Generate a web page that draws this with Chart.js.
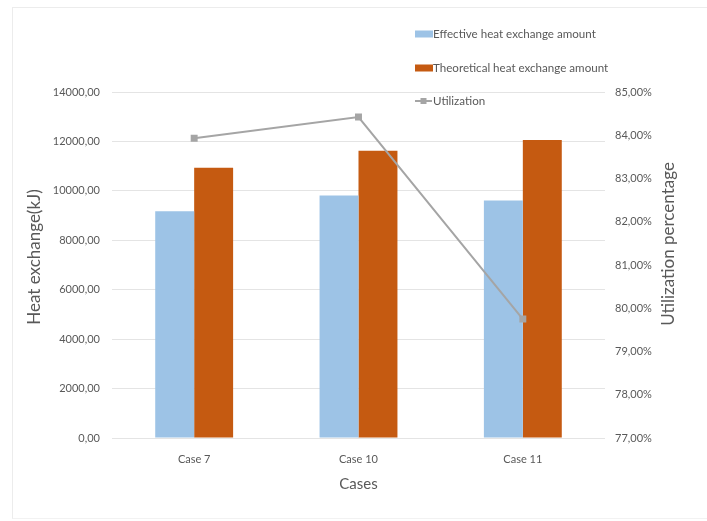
<!DOCTYPE html>
<html>
<head>
<meta charset="utf-8">
<script src="https://cdn.jsdelivr.net/npm/chart.js@4"></script>
<style>
  html, body { margin: 0; padding: 0; background: #fff; }
  #wrap { position: relative; width: 707px; height: 521px; }
  #frame { position: absolute; left: 12px; top: 7px; width: 700px; height: 512px;
           border-left: 1px solid #ececec; border-top: 1px solid #ececec; border-bottom: 1px solid #f2f2f2; box-sizing: border-box; }
  canvas { position: absolute; left: 0; top: 0; }
</style>
</head>
<body>
<div id="wrap">
  <div id="frame"></div>
  <canvas id="c" width="707" height="521"></canvas>
</div>
<script>
// Categories and series
const cases = ['Case 7', 'Case 10', 'Case 11'];
const effectiveHeat = [9170, 9810, 9610];
const theoreticalHeat = [10930, 11620, 12060];
const utilization = [83.93, 84.42, 79.75];

// Axis titles
const leftTitle = 'Heat exchange(kJ)';
const rightTitle = 'Utilization percentage';
const xTitle = 'Cases';

const FONT = 'Lato, "Liberation Sans", sans-serif';
const TEXT = '#595959';

const fmt = (v, d) => v.toFixed(d).replace('.', ',');

// Legend drawn as a vertical list at the top right
const sideLegend = {
  id: 'sideLegend',
  afterDraw(chart) {
    const ctx = chart.ctx;
    const x0 = 415, ys = [34, 68, 101];
    ctx.save();
    ctx.font = '11.6px ' + FONT;
    ctx.textBaseline = 'middle';
    chart.data.datasets.forEach((ds, i) => {
      const y = ys[i];
      if (ds.type === 'line') {
        ctx.strokeStyle = ds.borderColor;
        ctx.lineWidth = 2;
        ctx.beginPath(); ctx.moveTo(x0, y); ctx.lineTo(x0 + 17, y); ctx.stroke();
        ctx.fillStyle = ds.pointBackgroundColor;
        ctx.fillRect(x0 + 5.5, y - 3, 6, 6);
      } else {
        ctx.fillStyle = ds.backgroundColor;
        ctx.fillRect(x0, y - 3.5, 18, 7);
      }
      ctx.fillStyle = TEXT;
      ctx.fillText(ds.label, x0 + 18, y);
    });
    ctx.restore();
  }
};

// Vertical axis titles, both reading bottom-to-top
const sideTitles = {
  id: 'sideTitles',
  afterDraw(chart) {
    const ctx = chart.ctx;
    ctx.save();
    ctx.font = '17px ' + FONT;
    ctx.fillStyle = TEXT;
    ctx.textAlign = 'center';
    ctx.textBaseline = 'middle';
    [[35, 257, leftTitle], [669, 244, rightTitle]].forEach(([x, y, t]) => {
      ctx.save();
      ctx.translate(x, y);
      ctx.rotate(-Math.PI / 2);
      ctx.fillText(t, 0, 0);
      ctx.restore();
    });
    ctx.restore();
  }
};

new Chart(document.getElementById('c'), {
  data: {
    labels: cases,
    datasets: [
      { type: 'bar', label: 'Effective heat exchange amount', data: effectiveHeat,
        backgroundColor: '#9DC3E6', yAxisID: 'y', order: 2,
        categoryPercentage: 0.474, barPercentage: 1.0 },
      { type: 'bar', label: 'Theoretical heat exchange amount', data: theoreticalHeat,
        backgroundColor: '#C55A11', yAxisID: 'y', order: 2,
        categoryPercentage: 0.474, barPercentage: 1.0 },
      { type: 'line', label: 'Utilization', data: utilization, yAxisID: 'y1', order: 1,
        borderColor: '#A5A5A5', borderWidth: 2, pointStyle: 'rect', pointRadius: 3.5,
        pointBackgroundColor: '#A5A5A5', pointBorderColor: '#A5A5A5', tension: 0 }
    ]
  },
  options: {
    responsive: false,
    animation: false,
    layout: { padding: { top: 92, left: 0, right: 0, bottom: 0 } },
    plugins: { legend: { display: false }, tooltip: { enabled: false } },
    scales: {
      x: {
        grid: { display: false },
        border: { display: false },
        ticks: { color: TEXT, font: { family: FONT, size: 11 }, padding: 7 },
        title: { display: true, text: xTitle, color: TEXT, font: { family: FONT, size: 15 }, padding: { top: 0, bottom: 28 } },
        afterFit(s) { s.height = 83; }
      },
      y: {
        position: 'left', min: 0, max: 14000,
        ticks: { stepSize: 2000, color: TEXT, font: { family: FONT, size: 11 }, padding: 12,
                 callback: v => fmt(v, 2) },
        grid: { color: '#E4E4E4', drawTicks: false, lineWidth: 1 },
        border: { display: false },
        afterFit(s) { s.width = 112; }
      },
      y1: {
        position: 'right', min: 77, max: 85,
        ticks: { stepSize: 1, color: TEXT, font: { family: FONT, size: 11 }, padding: 10,
                 callback: v => fmt(v, 2) + '%' },
        grid: { display: false, drawTicks: false },
        border: { display: false },
        afterFit(s) { s.width = 102; }
      }
    }
  },
  plugins: [sideLegend, sideTitles]
});
</script>
</body>
</html>
